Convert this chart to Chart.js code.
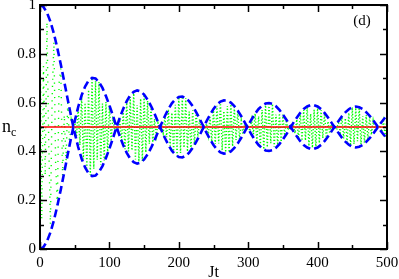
<!DOCTYPE html>
<html>
<head>
<meta charset="utf-8">
<script src="https://cdn.jsdelivr.net/npm/chart.js@4.4.1/dist/chart.umd.min.js"></script>
<style>
  html, body { margin: 0; padding: 0; background: #ffffff; }
  #wrap { width: 399px; height: 279px; position: relative; }
</style>
</head>
<body>
<div id="wrap"><canvas id="c" width="399" height="279"></canvas></div>
<script>
// ---- data ----
const xMajor = [0, 100, 200, 300, 400, 500];
const xMinor = [50, 150, 250, 350, 450];
const xTickLabels = ['0', '100', '200', '300', '400', '500'];
const yMajor = [0, 0.2, 0.4, 0.6, 0.8, 1];
const yMinor = [0.1, 0.3, 0.5, 0.7, 0.9];
const yTickLabels = ['0', '0.2', '0.4', '0.6', '0.8', '1'];
const xTitle = 'Jt';
const yTitle = 'n';
const yTitleSub = 'c';
const panelLabel = '(d)';

// envelope (blue dashed)
const envT = [0,5,10,15,20,25,30,35,40,45,48.1,50,55,60,65,70,75,80,85,90,95,100,105,110,110.4,115,120,125,130,135,140,145,150,155,160,165,170,173.1,175,180,185,190,195,200,205,210,215,220,225,230,235,235.8,240,245,250,255,260,265,270,275,280,285,290,295,298.6,300,305,310,315,320,325,330,335,340,345,350,355,360,361.4,365,370,375,380,385,390,395,400,405,410,415,420,424.1,425,430,435,440,445,450,455,460,465,470,475,480,485,486.9,490,495,500];
const upperEnv = [1.000,.992,.969,.932,.883,.823,.756,.685,.612,.541,.500,.524,.582,.630,.666,.690,.701,.699,.684,.660,.627,.589,.547,.503,.500,.538,.575,.606,.630,.644,.650,.646,.633,.612,.586,.555,.521,.500,.513,.545,.573,.597,.613,.623,.625,.618,.605,.586,.561,.534,.505,.500,.524,.550,.574,.592,.604,.609,.608,.600,.586,.567,.544,.519,.500,.507,.532,.555,.574,.587,.596,.598,.595,.585,.570,.551,.530,.507,.500,.517,.538,.558,.574,.584,.590,.589,.584,.573,.558,.539,.518,.500,.503,.524,.544,.560,.573,.581,.584,.581,.574,.561,.546,.528,.508,.500,.512,.531,.548];
const lowerEnv = [0,.008,.031,.068,.117,.177,.244,.315,.388,.459,.500,.476,.418,.370,.334,.310,.299,.301,.316,.340,.373,.411,.453,.497,.500,.462,.425,.394,.370,.356,.350,.354,.367,.388,.414,.445,.479,.500,.487,.455,.427,.403,.387,.377,.375,.382,.395,.414,.439,.466,.495,.500,.476,.450,.426,.408,.396,.391,.392,.400,.414,.433,.456,.481,.500,.493,.468,.445,.426,.413,.404,.402,.405,.415,.430,.449,.470,.493,.500,.483,.462,.442,.426,.416,.410,.411,.416,.427,.442,.461,.482,.500,.497,.476,.456,.440,.427,.419,.416,.419,.426,.439,.454,.472,.492,.500,.488,.469,.452];

// time average (red)
const meanT = [0, 500];
const meanY = [0.5, 0.5];

// fast oscillating n_c (green dotted)
const greenT = [0,2.5,5,7.5,10,12.5,15,17.5,20,22.5,25,27.5,30,32.5,35,37.5,40,42.5,45,47.5,50,52.5,55,57.5,60,62.5,65,67.5,70,72.5,75,77.5,80,82.5,85,87.5,90,92.5,95,97.5,100,102.5,105,107.5,110,112.5,115,117.5,120,122.5,125,127.5,130,132.5,135,137.5,140,142.5,145,147.5,150,152.5,155,157.5,160,162.5,165,167.5,170,172.5,175,177.5,180,182.5,185,187.5,190,192.5,195,197.5,200,202.5,205,207.5,210,212.5,215,217.5,220,222.5,225,227.5,230,232.5,235,237.5,240,242.5,245,247.5,250,252.5,255,257.5,260,262.5,265,267.5,270,272.5,275,277.5,280,282.5,285,287.5,290,292.5,295,297.5,300,302.5,305,307.5,310,312.5,315,317.5,320,322.5,325,327.5,330,332.5,335,337.5,340,342.5,345,347.5,350,352.5,355,357.5,360,362.5,365,367.5,370,372.5,375,377.5,380,382.5,385,387.5,390,392.5,395,397.5,400,402.5,405,407.5,410,412.5,415,417.5,420,422.5,425,427.5,430,432.5,435,437.5,440,442.5,445,447.5,450,452.5,455,457.5,460,462.5,465,467.5,470,472.5,475,477.5,480,482.5,485,487.5,490,492.5,495,497.5,500];
const greenY = [0.97,0.12,0.75,0.30,0.93,0.45,0.10,0.62,0.85,0.35,0.18,0.68,0.74,0.30,0.55,0.36,0.60,0.43,0.53,0.497,
.524,.455,.578,.426,.630,.367,.599,.331,.652,.303,.701,.329,.689,.366,.684,.345,.596,.363,.602,.392,
.589,.442,.544,.483,.503,.485,.523,.446,.560,.409,.606,.400,.623,.404,.644,.367,.590,.358,.616,.361,
.633,.396,.607,.431,.586,.437,.533,.464,.517,.496,.513,.475,.543,.458,.573,.423,.558,.400,.591,.382,
.623,.394,.618,.415,.618,.399,.563,.409,.568,.427,.561,.460,.532,.486,.505,.491,.514,.465,.540,.438,
.574,.430,.587,.432,.604,.404,.565,.396,.586,.396,.600,.421,.581,.447,.567,.450,.526,.470,.515,.494,
.507,.483,.530,.470,.555,.442,.544,.423,.570,.408,.596,.417,.593,.433,.595,.419,.551,.426,.556,.439,
.551,.465,.528,.487,.507,.496,.510,.474,.531,.452,.558,.444,.570,.445,.584,.422,.554,.415,.571,.414,
.584,.434,.569,.454,.558,.456,.523,.473,.515,.493,.503,.488,.523,.476,.544,.453,.536,.437,.558,.423,
.581,.430,.579,.442,.581,.430,.544,.436,.549,.446,.546,.468,.527,.487,.508,.498,.507,.480,.525,.460,
.548];

const SERIF = "'Liberation Serif', 'Times New Roman', serif";

const pairs = (xs, ys) => xs.map((x, i) => ({ x: x, y: ys[i] }));

const framePlugin = {
  id: 'frame',
  afterDraw(chart) {
    const ctx = chart.ctx;
    const a = chart.chartArea;
    const sx = chart.scales.x, sy = chart.scales.y;
    ctx.save();
    ctx.strokeStyle = '#000';
    ctx.lineWidth = 1.5;
    const majorLen = 7, minorLen = 4;
    ctx.beginPath();
    xMajor.forEach(v => { const p = Math.round(sx.getPixelForValue(v)) + 0.5;
      ctx.moveTo(p, a.bottom); ctx.lineTo(p, a.bottom - majorLen);
      ctx.moveTo(p, a.top); ctx.lineTo(p, a.top + majorLen); });
    xMinor.forEach(v => { const p = Math.round(sx.getPixelForValue(v)) + 0.5;
      ctx.moveTo(p, a.bottom); ctx.lineTo(p, a.bottom - minorLen);
      ctx.moveTo(p, a.top); ctx.lineTo(p, a.top + minorLen); });
    yMajor.forEach(v => { const p = Math.round(sy.getPixelForValue(v)) + 0.5;
      ctx.moveTo(a.left, p); ctx.lineTo(a.left + majorLen, p);
      ctx.moveTo(a.right, p); ctx.lineTo(a.right - majorLen, p); });
    yMinor.forEach(v => { const p = Math.round(sy.getPixelForValue(v)) + 0.5;
      ctx.moveTo(a.left, p); ctx.lineTo(a.left + minorLen, p);
      ctx.moveTo(a.right, p); ctx.lineTo(a.right - minorLen, p); });
    ctx.stroke();
    ctx.lineWidth = 2;
    ctx.strokeRect(a.left, a.top, a.right - a.left, a.bottom - a.top);

    // titles and panel label
    ctx.fillStyle = '#000';
    ctx.textBaseline = 'alphabetic';
    ctx.textAlign = 'center';
    ctx.font = '16px ' + SERIF;
    ctx.fillText(xTitle, (a.left + a.right) / 2, 277);
    ctx.textAlign = 'left';
    ctx.font = '18px ' + SERIF;
    ctx.fillText(yTitle, 2, 132);
    ctx.font = '12px ' + SERIF;
    ctx.fillText(yTitleSub, 11, 136);
    ctx.font = '15px ' + SERIF;
    ctx.textAlign = 'center';
    ctx.fillText(panelLabel, 362, 25);
    ctx.restore();
  }
};

new Chart(document.getElementById('c').getContext('2d'), {
  type: 'line',
  data: {
    datasets: [
      { label: 'upper', data: pairs(envT, upperEnv), borderColor: '#0000ff', borderWidth: 2.6,
        borderDash: [8, 4], pointRadius: 0, tension: 0, fill: false },
      { label: 'lower', data: pairs(envT, lowerEnv), borderColor: '#0000ff', borderWidth: 2.6,
        borderDash: [8, 4], pointRadius: 0, tension: 0, fill: false },
      { label: 'mean', data: pairs(meanT, meanY), borderColor: '#ff0000', borderWidth: 1.6,
        pointRadius: 0, tension: 0, fill: false },
      { label: 'nc', data: pairs(greenT, greenY), borderColor: '#00ff00', borderWidth: 1.4,
        borderDash: [1.2, 2], pointRadius: 0, tension: 0, fill: false,
        segment: { borderDash: c => (c.p0.parsed.x < 47 ? [1.2, 6] : [1.2, 2]) } }
    ]
  },
  options: {
    animation: false,
    responsive: false,
    devicePixelRatio: 1,
    layout: { padding: { left: 0, right: 12, top: 5, bottom: 0 } },
    plugins: { legend: { display: false }, tooltip: { enabled: false } },
    scales: {
      x: {
        type: 'linear', min: 0, max: 500,
        grid: { display: false, drawTicks: false },
        border: { display: false },
        ticks: {
          stepSize: 100, maxRotation: 0, autoSkip: false, padding: 5, color: '#000',
          font: { family: SERIF, size: 15 },
          callback: v => { const i = xMajor.indexOf(v); return i >= 0 ? xTickLabels[i] : ''; }
        },
        afterFit(s) { s.height = 30; s.paddingLeft = 0; s.paddingRight = 0; }
      },
      y: {
        type: 'linear', min: 0, max: 1,
        grid: { display: false, drawTicks: false },
        border: { display: false },
        ticks: {
          stepSize: 0.2, autoSkip: false, padding: 4, color: '#000',
          font: { family: SERIF, size: 15 },
          callback: v => { const i = yMajor.findIndex(m => Math.abs(m - v) < 1e-6); return i >= 0 ? yTickLabels[i] : ''; }
        },
        afterFit(s) { s.width = 40; s.paddingTop = 0; s.paddingBottom = 0; }
      }
    }
  },
  plugins: [framePlugin]
});
</script>
</body>
</html>
